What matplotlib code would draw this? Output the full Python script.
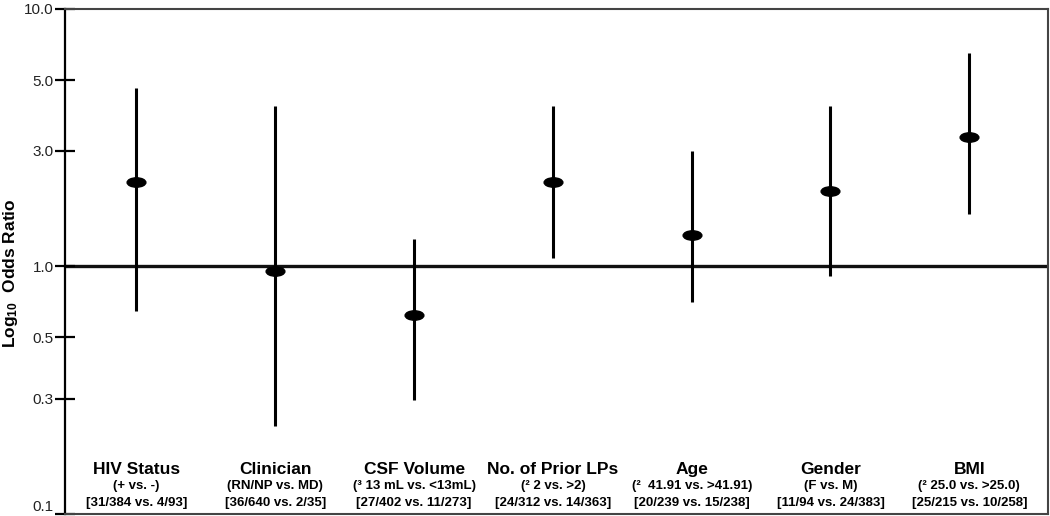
import matplotlib
matplotlib.use('Agg')
import matplotlib.pyplot as plt
import matplotlib.transforms as mtransforms
from matplotlib.path import Path
from matplotlib.ticker import FixedLocator, FixedFormatter, NullLocator
import numpy as np

plt.rcParams['font.family'] = ['Liberation Sans', 'DejaVu Sans']
plt.rcParams['mathtext.fontset'] = 'custom'
plt.rcParams['mathtext.rm'] = 'Liberation Sans:bold'
plt.rcParams['mathtext.it'] = 'Liberation Sans:bold'

# data: odds ratio with 95% CI
factors = ['HIV Status', 'Clinician', 'CSF Volume', 'No. of Prior LPs',
           'Age', 'Gender', 'BMI']
comparisons = ['(+ vs. -)', '(RN/NP vs. MD)', '(\u00b3 13 mL vs. <13mL)',
               '(\u00b2 2 vs. >2)', '(\u00b2  41.91 vs. >41.91)', '(F vs. M)',
               '(\u00b2 25.0 vs. >25.0)']
counts = ['[31/384 vs. 4/93]', '[36/640 vs. 2/35]', '[27/402 vs. 11/273]',
          '[24/312 vs. 14/363]', '[20/239 vs. 15/238]', '[11/94 vs. 24/383]',
          '[25/215 vs. 10/258]']
odds_ratio = [2.23, 0.955, 0.62, 2.24, 1.34, 2.05, 3.31]
ci_low = [0.646, 0.232, 0.297, 1.08, 0.707, 0.91, 1.64]
ci_high = [4.72, 4.16, 1.29, 4.16, 3.0, 4.16, 6.53]

y_ticks = [0.1, 0.3, 0.5, 1.0, 3.0, 5.0, 10.0]
y_ticklabels = ['0.1', '0.3', '0.5', '1.0', '3.0', '5.0', '10.0']

# the original axis is a hand-drawn "log" axis: tick spacing isn't quite logarithmic
tick_pos = [-252, 0, 115, 176.7, 248, 363, 434, 505, 757]
tick_log = [-2, -1, np.log10(0.3), np.log10(0.5), 0, np.log10(3), np.log10(5), 1, 2]


def fwd(v):
    v = np.clip(np.asarray(v, dtype=float), 1e-6, None)
    return np.interp(np.log10(v), tick_log, tick_pos)


def inv(t):
    return 10 ** np.interp(np.asarray(t, dtype=float), tick_pos, tick_log)


verts = Path.unit_circle().vertices * np.array([1.0, 0.5])
ellipse = Path(verts, Path.unit_circle().codes)

fig = plt.figure(figsize=(10.5, 5.16), dpi=100)
ax = fig.add_axes([65 / 1050, 2 / 516, 983 / 1050, 505 / 516])
ax.set_yscale('function', functions=(fwd, inv))

x = np.arange(len(factors))
ax.axhline(1.0, color='#111111', lw=2.4, zorder=1)
ax.vlines(x, ci_low, ci_high, color='k', lw=2.2, zorder=2)
ax.plot(x, odds_ratio, ls='none', marker=ellipse, ms=13.5, color='k', zorder=3)

ax.set_ylim(0.1, 10.0)
ax.set_xlim(-0.515, 6.567)
ax.yaxis.set_major_locator(FixedLocator(y_ticks))
ax.yaxis.set_major_formatter(FixedFormatter(y_ticklabels))
ax.yaxis.set_minor_locator(NullLocator())
ax.set_xticks([])
ax.tick_params(axis='y', direction='inout', length=14, width=1.6,
               labelsize=11, labelcolor='#222222', pad=1)
# bottom label would fall off the figure edge, sit it on top of its tick instead
ax.yaxis.get_major_ticks()[0].label1.set_va('bottom')

for side in ['top', 'right', 'bottom']:
    ax.spines[side].set_color('#444444')
    ax.spines[side].set_linewidth(1.5)
ax.spines['left'].set_color('k')
ax.spines['left'].set_linewidth(1.6)

trans = mtransforms.blended_transform_factory(ax.transData, ax.transAxes)
for i in range(len(factors)):
    ax.text(x[i], 0.089, factors[i], transform=trans, ha='center', va='center',
            fontsize=12.5, fontweight='bold')
    ax.text(x[i], 0.055, comparisons[i], transform=trans, ha='center', va='center',
            fontsize=9.5, fontweight='bold')
    ax.text(x[i], 0.021, counts[i], transform=trans, ha='center', va='center',
            fontsize=9.5, fontweight='bold')

fig.text(11 / 1050, 1 - 273 / 516, r'Log$_{10}$  Odds Ratio', rotation=90,
         ha='center', va='center', fontsize=12.5, fontweight='bold')

fig.savefig('out.png', dpi=100)
